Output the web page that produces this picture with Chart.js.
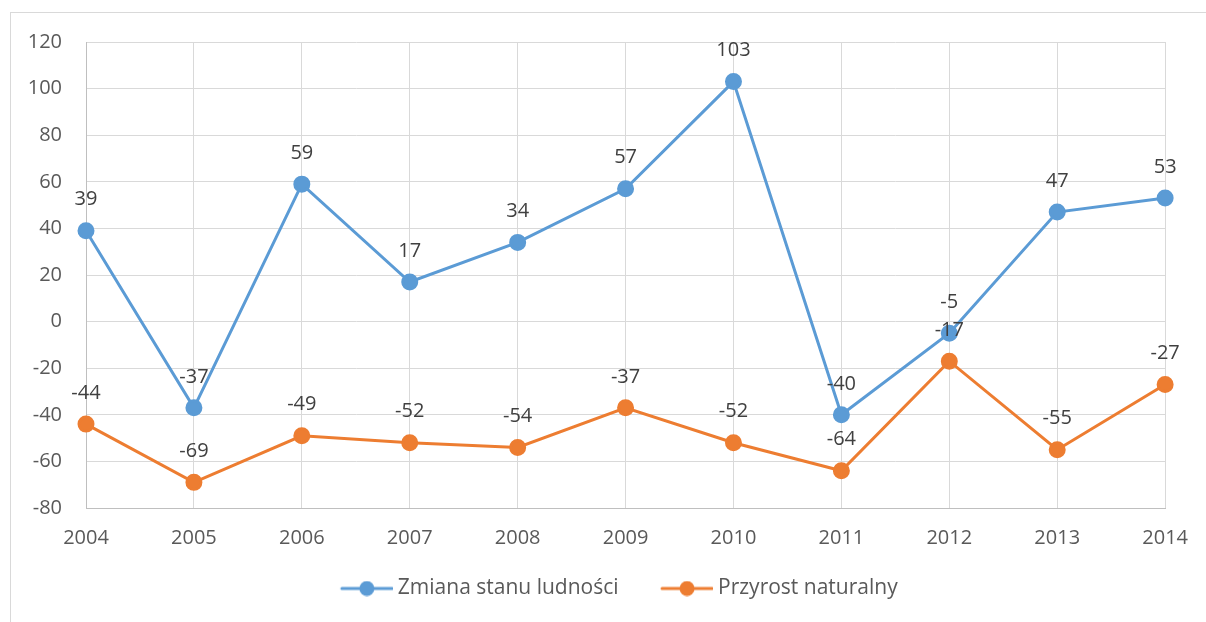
<!DOCTYPE html>
<html>
<head>
<meta charset="utf-8">
<script src="https://cdn.jsdelivr.net/npm/chart.js@4.4.1/dist/chart.umd.min.js"></script>
<style>
  html, body { margin: 0; padding: 0; background: #fff; }
  .wrap { position: relative; width: 1206px; height: 622px; overflow: hidden; }
  .frame { position: absolute; left: 10px; top: 12px; width: 1300px; height: 700px;
           border-left: 1px solid #d9d9d9; border-top: 1px solid #d9d9d9; }
  canvas { position: absolute; left: 0; top: 0; }
</style>
</head>
<body>
<div class="wrap">
  <div class="frame"></div>
  <canvas id="myChart" width="1206" height="622"></canvas>
</div>
<script>
// dane z wykresu
const lata = ['2004', '2005', '2006', '2007', '2008', '2009', '2010', '2011', '2012', '2013', '2014'];
const zmianaStanu = [39, -37, 59, 17, 34, 57, 103, -40, -5, 47, 53];
const przyrostNaturalny = [-44, -69, -49, -52, -54, -37, -52, -64, -17, -55, -27];
const nazwySerii = ['Zmiana stanu ludności', 'Przyrost naturalny'];
const kolory = ['#5b9bd5', '#ed7d31'];

const czcionka = "'Open Sans', 'Noto Sans', sans-serif";

// znacznik legendy: linia z kółkiem (pusty margines z lewej robi odstęp między pozycjami)
const makeMarker = (color) => {
    const c = document.createElement('canvas');
    c.width = 92;
    c.height = 16;
    const g = c.getContext('2d');
    g.strokeStyle = color;
    g.lineWidth = 3;
    g.lineCap = 'round';
    g.beginPath();
    g.moveTo(41, 8);
    g.lineTo(91, 8);
    g.stroke();
    g.fillStyle = color;
    g.beginPath();
    g.arc(66, 8, 7.5, 0, Math.PI * 2);
    g.fill();
    return c;
};

// etykiety danych nad punktami
const dataLabels = {
    id: 'dataLabels',
    afterDatasetsDraw(chart) {
        const ctx = chart.ctx;
        ctx.save();
        ctx.font = `20px ${czcionka}`;
        ctx.fillStyle = '#404040';
        ctx.textAlign = 'center';
        ctx.textBaseline = 'middle';
        chart.data.datasets.forEach((ds, i) => {
            const meta = chart.getDatasetMeta(i);
            meta.data.forEach((pt, j) => {
                ctx.fillText(String(ds.data[j]), pt.x, pt.y - 31);
            });
        });
        ctx.restore();
    }
};

// legenda trochę w prawo, jak w oryginale
const przesunLegende = {
    id: 'przesunLegende',
    afterLayout(chart) {
        if (chart.legend) {
            chart.legend.left += 38;
        }
    }
};

const ctx = document.getElementById('myChart');

new Chart(ctx, {
    type: 'line',
    data: {
        labels: lata,
        datasets: [
            {
                label: nazwySerii[0],
                data: zmianaStanu,
                borderColor: kolory[0],
                backgroundColor: kolory[0],
                borderWidth: 3,
                pointRadius: 7,
                pointHoverRadius: 7,
                pointStyle: 'circle',
                tension: 0
            },
            {
                label: nazwySerii[1],
                data: przyrostNaturalny,
                borderColor: kolory[1],
                backgroundColor: kolory[1],
                borderWidth: 3,
                pointRadius: 7,
                pointHoverRadius: 7,
                pointStyle: 'circle',
                tension: 0
            }
        ]
    },
    plugins: [dataLabels, przesunLegende],
    options: {
        responsive: false,
        animation: false,
        layout: {
            padding: { left: 0, right: 40, top: 42, bottom: 13 }
        },
        scales: {
            x: {
                offset: false,
                grid: { color: '#d9d9d9', lineWidth: 1, drawTicks: false },
                border: { color: '#bfbfbf', width: 1 },
                ticks: {
                    color: '#595959',
                    font: { family: czcionka, size: 20 },
                    padding: 18,
                    maxRotation: 0
                },
                afterFit: (scale) => { scale.height = 62; }
            },
            y: {
                min: -80,
                max: 120,
                grid: { color: '#d9d9d9', lineWidth: 1, drawTicks: false },
                border: { color: '#bfbfbf', width: 1 },
                ticks: {
                    stepSize: 20,
                    color: '#595959',
                    font: { family: czcionka, size: 20 },
                    padding: 24
                },
                afterFit: (scale) => { scale.width = 86; }
            }
        },
        plugins: {
            tooltip: { enabled: false },
            legend: {
                position: 'bottom',
                labels: {
                    color: '#595959',
                    font: { family: czcionka, size: 21 },
                    usePointStyle: true,
                    pointStyleWidth: 81,
                    padding: 8,
                    generateLabels: (chart) => chart.data.datasets.map((ds, i) => ({
                        text: ds.label,
                        pointStyle: makeMarker(kolory[i]),
                        fillStyle: kolory[i],
                        strokeStyle: kolory[i],
                        fontColor: '#595959',
                        lineWidth: 0,
                        hidden: false,
                        datasetIndex: i
                    }))
                }
            }
        }
    }
});
</script>
</body>
</html>
